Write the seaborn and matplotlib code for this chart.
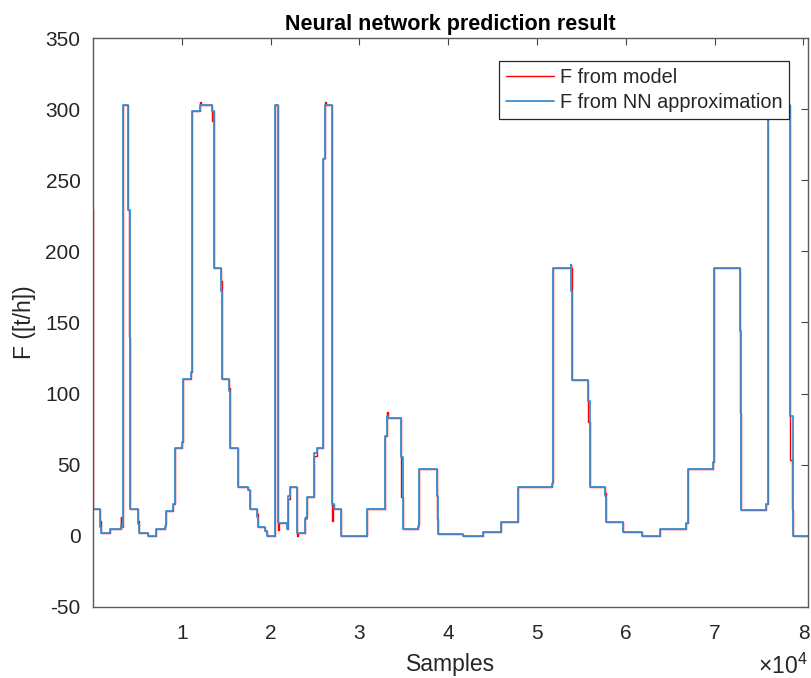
import matplotlib
matplotlib.use("Agg")
import matplotlib.pyplot as plt
import pandas as pd
import seaborn as sns

# step signal: segment start (sample) and level of each signal
seg_start = [
    0, 40, 754, 850, 1880, 3100, 3190, 3434, 3941, 4100,
    4200, 5067, 5160, 6193, 7128, 8100, 8186, 9042, 9233, 9988,
    10168, 11001, 11100, 11181, 12048, 12150, 13433, 13530, 13625, 14400,
    14500, 15350, 15426, 16300, 16361, 17487, 17678, 18433, 18613, 19367,
    19559, 20450, 20550, 20888, 20980, 21901, 22000, 22180, 22937, 23050,
    23871, 24063, 24919, 25189, 25932, 26123, 26220, 26945, 27040, 27137,
    27925, 30886, 32880, 33139, 33240, 34716, 34900, 36650, 36742, 38701,
    38900, 41696, 43948, 45941, 47888, 51700, 51830, 53767, 53850, 53950,
    55772, 55950, 57650, 57764, 59712, 61783, 63844, 66772, 67030, 69778,
    69958, 72852, 73000, 75780, 76039, 78484, 78650, 78800,
]
model_level = [
    230, 19, 10, 1.6, 5, 13, 6, 303, 229, 140,
    19, 10, 2, 0, 5, 8, 17.5, 22, 62, 66,
    110, 115, 119, 299, 305, 303, 292, 299, 188, 179,
    110, 104, 62, 58, 34, 32, 19, 15, 6, 3,
    0, 8, 303, 4, 9, 5, 26, 34, 0, 2,
    13, 27, 56, 62, 266, 305, 303, 10, 22, 19,
    0, 19, 70, 87, 83, 27, 5, 8, 47, 12,
    1.2, 0, 2.3, 9.4, 34, 38, 188.5, 190.6, 188, 109.6,
    80, 34, 30, 9.4, 2.3, 0, 5, 8.7, 47, 52,
    188, 86, 18.3, 22, 303, 53, 18, 0,
]
nn_level = [
    123, 19, 6, 1.6, 5, 7, 6, 303, 229, 229,
    19, 8, 2, 0, 5, 6, 17.5, 22, 62, 66,
    110, 115, 115, 299, 303, 303, 299, 299, 188, 172,
    110, 102, 62, 60, 34, 32, 19, 13, 6, 3,
    0, 0, 303, 9, 9, 5, 28, 34, 2, 2,
    12, 27, 58, 62, 265, 303, 303, 22, 22, 19,
    0, 19, 70, 84, 83, 55, 5, 6, 47, 28,
    1.2, 0, 2.3, 9.4, 34, 36, 188.5, 190.6, 172, 109.6,
    95, 34, 28, 9.4, 2.3, 0, 5, 8.7, 47, 52,
    188, 144, 18.3, 22, 303, 84, 84, 0,
]
x_end = 80500

x_ticks = [10000, 20000, 30000, 40000, 50000, 60000, 70000, 80000]
x_tick_labels = ["1", "2", "3", "4", "5", "6", "7", "8"]
y_ticks = [-50, 0, 50, 100, 150, 200, 250, 300, 350]

sns.set_style("white")
plt.rcParams["font.family"] = ["Liberation Sans", "DejaVu Sans"]
plt.rcParams["axes.unicode_minus"] = False
plt.rcParams["mathtext.fontset"] = "custom"
plt.rcParams["mathtext.rm"] = "Liberation Sans"
plt.rcParams["mathtext.it"] = "Liberation Sans:italic"

text_col = "#262626"
xs = seg_start + [x_end]
df = pd.DataFrame({
    "Samples": xs,
    "model": model_level + [model_level[-1]],
    "nn": nn_level + [nn_level[-1]],
})

fig = plt.figure(figsize=(8.12, 6.78), dpi=100)
ax = fig.add_axes([0.1145, 0.1052, 0.8805, 0.8383])

sns.lineplot(data=df, x="Samples", y="model", ax=ax, color="#FF0000", lw=1.0,
             drawstyle="steps-post", estimator=None, sort=False, label="F from model")
sns.lineplot(data=df, x="Samples", y="nn", ax=ax, color="#3a8fd2", lw=1.3,
             drawstyle="steps-post", estimator=None, sort=False,
             label="F from NN approximation")

ax.set_xlim(0, x_end)
ax.set_ylim(-50, 350)
ax.set_xticks(x_ticks)
ax.set_xticklabels(x_tick_labels)
ax.set_yticks(y_ticks)

ax.tick_params(axis="both", direction="in", length=4.8, width=0.8, color="#454545",
               labelsize=15, labelcolor=text_col, top=True, right=True)
ax.tick_params(axis="x", pad=12.5)
ax.tick_params(axis="y", pad=9)
for sp in ax.spines.values():
    sp.set_color("#5a5a5a")
    sp.set_linewidth(1.0)

ax.set_xlabel("Samples", fontsize=16.5, color=text_col, labelpad=7)
ax.set_ylabel("F ([t/h])", fontsize=16.5, color=text_col, labelpad=7)
ax.set_title("Neural network prediction result", fontsize=15.5, fontweight="bold",
             color="black", pad=6)
ax.text(1.0, -0.1184, r"$\times10^{4}$", transform=ax.transAxes, ha="right",
        va="baseline", fontsize=16.5, color=text_col)

leg = ax.legend(loc="upper right", bbox_to_anchor=(0.974, 0.9606), borderaxespad=0,
                fontsize=14.3, frameon=True, fancybox=False, framealpha=1,
                edgecolor="#262626", handlelength=2.4, handletextpad=0.3,
                borderpad=0.35, labelspacing=0.3)
leg.get_frame().set_linewidth(0.9)

fig.savefig("out.png", dpi=100)
